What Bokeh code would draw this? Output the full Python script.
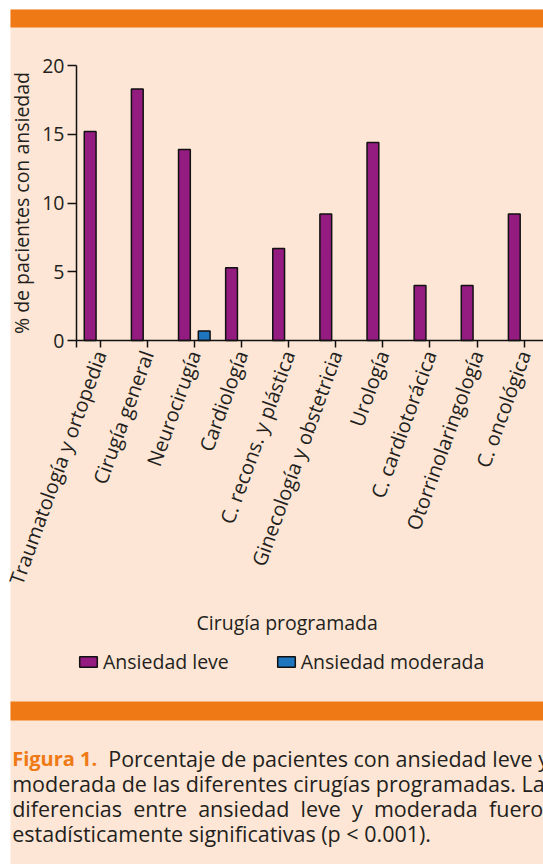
import math
from bokeh.plotting import figure
from bokeh.models import (Range1d, FixedTicker, Legend, LegendItem, LinearAxis,
                          ColumnDataSource, CDSView, BooleanFilter)
from bokeh.core.properties import value
from bokeh.transform import dodge
from bokeh.embed import file_html
from bokeh.resources import INLINE

categories = ["Traumatología y ortopedia", "Cirugía general", "Neurocirugía",
              "Cardiología", "C. recons. y plástica", "Ginecología y obstetricia",
              "Urología", "C. cardiotorácica", "Otorrinolaringología", "C. oncológica"]
leve = [15.2, 18.3, 13.9, 5.3, 6.7, 9.2, 14.4, 4.0, 4.0, 9.2]
moderada = [0, 0, 0.7, 0, 0, 0, 0, 0, 0, 0]
y_ticks = [0, 5, 10, 15, 20]
series_names = ["Ansiedad leve", "Ansiedad moderada"]
x_title = "Cirugía programada"
y_title = "% de pacientes con ansiedad"
caption_head = "Figura 1."
caption_lines = ["Porcentaje de pacientes con ansiedad leve y",
                 "moderada de las diferentes cirugías programadas. Las",
                 "diferencias entre ansiedad leve y moderada fueron",
                 "estadísticamente significativas (p < 0.001)."]

PEACH = "#fde6d5"
ORANGE = "#ef7914"
PURPLE = "#941b80"
BLUE = "#1f75be"
TEXT = "#231f20"
LINE = "#111111"
FONT = "Open Sans"
FS = "19.5px"

W, H = 543, 864
# chart frame in page pixels
FX0, FX1 = 76, 543       # x of category -0.5 and right end
FY0, FY1 = 340, 65       # y of value 0 and 20
XMIN, XMAX = -0.5, 9.41
YMIN, YMAX = 0, 20
sx = (FX1 - FX0) / (XMAX - XMIN)
sy = (FY0 - FY1) / (YMAX - YMIN)

p = figure(width=W, height=H, output_backend="svg", toolbar_location=None,
           x_range=Range1d(0, W), y_range=Range1d(H, 0),
           x_axis_type=None, y_axis_type=None, min_border=0,
           background_fill_color="white", border_fill_color="white",
           outline_line_color=None)
p.grid.visible = False
p.extra_x_ranges = {"xc": Range1d(XMIN - FX0 / sx, XMAX + (W - FX1) / sx)}
p.extra_y_ranges = {"yc": Range1d(YMIN - (H - FY0) / sy, YMAX + FY1 / sy)}

# panel decoration
p.quad(left=[10], right=[W], top=[9], bottom=[H], fill_color=PEACH, line_color=None)
p.quad(left=[10, 10], right=[W, W], top=[9, 701], bottom=[27, 720],
       fill_color=ORANGE, line_color=None)

src = ColumnDataSource(dict(idx=list(range(len(categories))), leve=leve, moderada=moderada))
r1 = p.vbar(x=dodge("idx", -0.21), top="leve", width=0.25, source=src,
            view=CDSView(filter=BooleanFilter([v > 0 for v in leve])),
            fill_color=PURPLE, line_color=LINE, line_width=1.5,
            x_range_name="xc", y_range_name="yc")
r2 = p.vbar(x=dodge("idx", 0.21), top="moderada", width=0.25, source=src,
            view=CDSView(filter=BooleanFilter([v > 0 for v in moderada])),
            fill_color=BLUE, line_color=LINE, line_width=1.5,
            x_range_name="xc", y_range_name="yc")

ov = {i: c for i, c in enumerate(categories)}
ov[-0.5] = ""
xa = LinearAxis(x_range_name="xc", y_range_name="yc", fixed_location=0,
                bounds=(XMIN, XMAX),
                ticker=FixedTicker(ticks=[-0.5] + list(range(len(categories)))))
xa.major_label_overrides = ov
xa.major_label_orientation = math.radians(70)
xa.major_tick_out = 7
xa.major_label_standoff = 4

ya = LinearAxis(x_range_name="xc", y_range_name="yc", fixed_location=XMIN,
                bounds=(YMIN, YMAX), ticker=FixedTicker(ticks=y_ticks))
ya.major_tick_out = 9
ya.major_label_standoff = 3
ya.axis_label = y_title
ya.axis_label_text_font = FONT
ya.axis_label_text_font_size = FS
ya.axis_label_text_font_style = "normal"
ya.axis_label_text_color = TEXT
ya.axis_label_standoff = 4

for ax in (xa, ya):
    ax.major_tick_in = 0
    ax.minor_tick_out = 0
    ax.minor_tick_in = 0
    ax.major_label_text_font = FONT
    ax.major_label_text_color = TEXT
    ax.axis_line_color = LINE
    ax.axis_line_width = 1.5
    ax.major_tick_line_color = LINE
    ax.major_tick_line_width = 1.5
xa.major_label_text_font_size = "20px"
ya.major_label_text_font_size = FS
p.add_layout(xa, "below")
p.add_layout(ya, "left")

p.text(x=[286.7], y=[621.7], text=[x_title], text_align="center",
       text_baseline="alphabetic", text_font=value(FONT),
       text_font_size=value(FS), text_color=TEXT)

legend = Legend(items=[LegendItem(label=series_names[0], renderers=[r1]),
                       LegendItem(label=series_names[1], renderers=[r2])],
                orientation="horizontal", location=(77, H - 675),
                glyph_width=22, glyph_height=13, label_standoff=4, spacing=46,
                padding=0, margin=0, background_fill_alpha=0, border_line_alpha=0,
                label_text_font=FONT, label_text_font_size=FS, label_text_color=TEXT)
p.add_layout(legend)

p.text(x=[11.7], y=[758], text=[caption_head], text_baseline="alphabetic",
       text_font=value(FONT), text_font_size=value("20px"),
       text_font_style="bold", text_color=ORANGE)
lines = list(caption_lines)
lines[2] = lines[2].replace(" ", " \u00a0")
p.text(x=[107.7, 11.7, 11.7, 11.7], y=[758, 783.3, 808.3, 833], text=lines,
       text_baseline="alphabetic", text_font=value(FONT),
       text_font_size=value("21.5px"), text_color=TEXT)

open("out.html", "w").write(file_html(p, INLINE))
